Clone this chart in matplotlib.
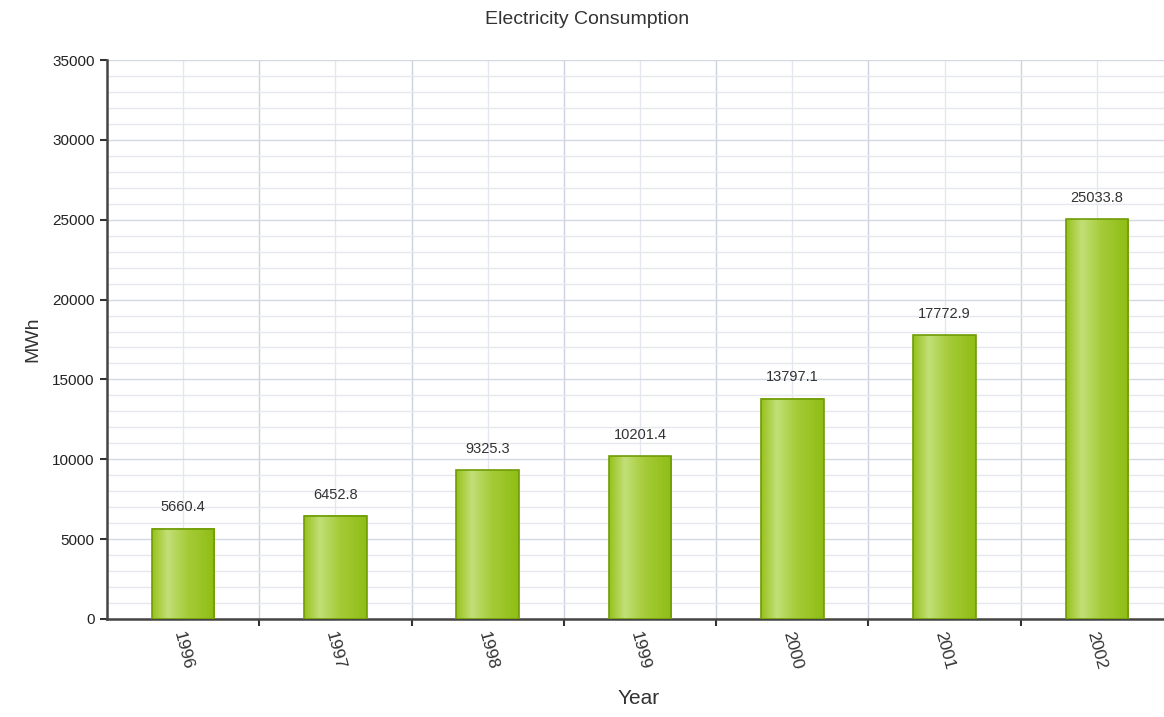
import numpy as np
import matplotlib
matplotlib.use("Agg")
import matplotlib.pyplot as plt
from matplotlib.colors import LinearSegmentedColormap
from matplotlib.ticker import MultipleLocator

years = ["1996", "1997", "1998", "1999", "2000", "2001", "2002"]
mwh = [5660.4, 6452.8, 9325.3, 10201.4, 13797.1, 17772.9, 25033.8]
labels = ["5660.4", "6452.8", "9325.3", "10201.4", "13797.1", "17772.9", "25033.8"]

plt.rcParams['font.family'] = ['Liberation Sans', 'DejaVu Sans']

fig = plt.figure(figsize=(11.64, 7.17), dpi=100)
# plot area runs a bit past the right edge, as in the reference
ax = fig.add_axes([107/1164, (717-619)/717, 1066/1164, 559/717])

x = np.arange(len(years))
w = 0.41

# gradient for the bars: darker edges, light strip left of centre
grad = LinearSegmentedColormap.from_list(
    "g", [(0, "#98c21c"), (0.25, "#c2df78"), (0.55, "#a6cc3a"), (1, "#8fbd14")])
g = np.linspace(0, 1, 100).reshape(1, -1)

for xi, v in zip(x, mwh):
    ax.imshow(g, cmap=grad, aspect='auto', extent=(xi - w/2, xi + w/2, 0, v),
              zorder=3, interpolation='bicubic')
ax.bar(x, mwh, width=w, facecolor='none', edgecolor='#6f9c06', linewidth=1.2, zorder=4)

for xi, v, t in zip(x, mwh, labels):
    ax.text(xi, v + 900, t, ha='center', va='bottom', fontsize=10.5, color='#333333')

ax.set_xlim(-0.5, len(years) - 0.5)
ax.set_ylim(0, 35000)

ax.yaxis.set_major_locator(MultipleLocator(5000))
ax.yaxis.set_minor_locator(MultipleLocator(1000))
ax.set_xticks(x + 0.5, minor=False)
ax.set_xticks(x, minor=True)
ax.set_xticklabels([])
for xi, yr in zip(x, years):
    ax.text(xi, -700, yr, rotation=-75, ha='center', va='top', fontsize=12.5,
            color='#333333', transform=ax.transData)

ax.grid(which='major', axis='y', color='#d4d8e4', linewidth=1)
ax.grid(which='minor', axis='y', color='#e6e8ef', linewidth=1)
ax.grid(which='major', axis='x', color='#cdd2e0', linewidth=1)
ax.grid(which='minor', axis='x', color='#e4e7ef', linewidth=1)
ax.set_axisbelow(True)

ax.tick_params(axis='y', which='major', length=5, width=1.5, color='#333333',
               labelsize=11, labelcolor='#222222', pad=4)
ax.tick_params(axis='y', which='minor', length=0)
ax.tick_params(axis='x', which='major', length=5, width=1.5, color='#333333')
ax.tick_params(axis='x', which='minor', length=0)

for s in ['top', 'right']:
    ax.spines[s].set_visible(False)
ax.spines['left'].set_color('#444444')
ax.spines['left'].set_linewidth(1.8)
ax.spines['bottom'].set_color('#444444')
ax.spines['bottom'].set_linewidth(1.8)

ax.set_ylabel('MWh', fontsize=14, color='#333333', labelpad=8)
fig.text(639/1164, 1 - 699/717, 'Year', ha='center', va='center', fontsize=15, color='#333333')
fig.text(587/1164, 1 - 20/717, 'Electricity Consumption', ha='center', va='center',
         fontsize=14, color='#333333')

fig.savefig('out.png', dpi=100)
